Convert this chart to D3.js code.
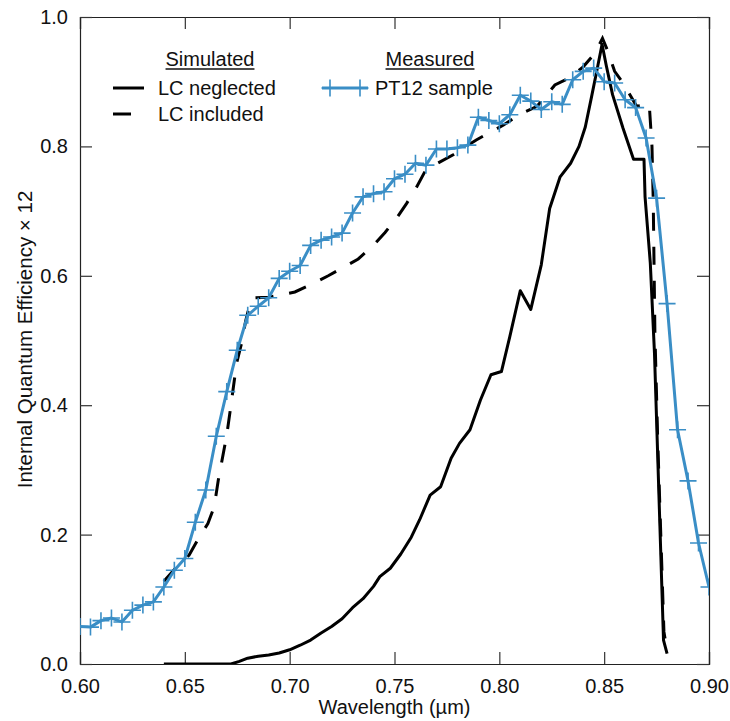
<!DOCTYPE html>
<html>
<head>
<meta charset="utf-8">
<script src="https://cdn.jsdelivr.net/npm/d3@7"></script>
<style>
  body { margin: 0; background: #fff; }
  text { font-family: "Liberation Sans", Arial, Helvetica, sans-serif; fill: #111; }
</style>
</head>
<body>
<div id="chart"></div>
<script>

// measured PT12 sample
var wlMeasured = [0.600, 0.605, 0.610, 0.615, 0.620, 0.625, 0.630, 0.635, 0.640, 0.645,
  0.650, 0.655, 0.660, 0.665, 0.670, 0.675, 0.680, 0.685, 0.690, 0.695,
  0.700, 0.705, 0.710, 0.715, 0.720, 0.725, 0.730, 0.735, 0.740, 0.745,
  0.750, 0.755, 0.760, 0.765, 0.770, 0.775, 0.780, 0.785, 0.790, 0.795,
  0.800, 0.805, 0.810, 0.815, 0.820, 0.825, 0.830, 0.835, 0.840, 0.845,
  0.850, 0.855, 0.860, 0.865, 0.870, 0.875, 0.880, 0.885, 0.890, 0.895, 0.900];
var qeMeasured = [0.058, 0.057, 0.067, 0.071, 0.065, 0.083, 0.091, 0.096, 0.119, 0.145,
  0.163, 0.219, 0.269, 0.352, 0.421, 0.485, 0.539, 0.553, 0.566, 0.596,
  0.607, 0.616, 0.647, 0.655, 0.660, 0.666, 0.697, 0.722, 0.727, 0.730,
  0.750, 0.757, 0.774, 0.771, 0.796, 0.796, 0.798, 0.802, 0.845, 0.840,
  0.835, 0.849, 0.879, 0.870, 0.857, 0.869, 0.865, 0.903, 0.916, 0.921,
  0.900, 0.898, 0.872, 0.860, 0.813, 0.720, 0.557, 0.362, 0.283, 0.187, 0.119];

// simulated, LC neglected
var wlNeglected = [0.640, 0.650, 0.660, 0.672, 0.676, 0.680, 0.685, 0.690, 0.695, 0.700,
  0.705, 0.710, 0.715, 0.720, 0.725, 0.730, 0.735, 0.740, 0.743, 0.748,
  0.753, 0.758, 0.762, 0.767, 0.772, 0.777, 0.781, 0.786, 0.791, 0.796,
  0.801, 0.805, 0.810, 0.815, 0.820, 0.824, 0.829, 0.834, 0.838, 0.841,
  0.844, 0.847, 0.849, 0.851, 0.854, 0.859, 0.864, 0.869, 0.8695, 0.872,
  0.874, 0.8766, 0.8783, 0.880];
var qeNeglected = [0.000, 0.000, 0.000, 0.000, 0.004, 0.009, 0.012, 0.014, 0.017, 0.022,
  0.029, 0.037, 0.048, 0.058, 0.070, 0.087, 0.101, 0.120, 0.135, 0.148,
  0.170, 0.196, 0.223, 0.261, 0.274, 0.318, 0.341, 0.362, 0.408, 0.447,
  0.452, 0.506, 0.577, 0.548, 0.617, 0.704, 0.753, 0.774, 0.800, 0.830,
  0.877, 0.925, 0.958, 0.925, 0.880, 0.828, 0.780, 0.780, 0.722, 0.620,
  0.480, 0.212, 0.037, 0.016];

// simulated, LC included
var wlIncluded = [0.640, 0.645, 0.650, 0.652, 0.6565, 0.661, 0.664, 0.666, 0.670, 0.672,
  0.6747, 0.677, 0.679, 0.681, 0.683, 0.690, 0.695, 0.7025, 0.7105, 0.7184,
  0.7256, 0.7327, 0.7396, 0.7455, 0.751, 0.7558, 0.7602, 0.7645, 0.770, 0.778,
  0.789, 0.802, 0.810, 0.818, 0.8265, 0.833, 0.840, 0.8456, 0.8492, 0.8515,
  0.855, 0.859, 0.8655, 0.8715, 0.8728, 0.8734, 0.8742, 0.8755, 0.877, 0.8785, 0.880];
var qeIncluded = [0.128, 0.146, 0.163, 0.168, 0.194, 0.217, 0.243, 0.285, 0.354, 0.400,
  0.465, 0.495, 0.530, 0.556, 0.566, 0.567, 0.570, 0.575, 0.587, 0.600,
  0.613, 0.626, 0.646, 0.667, 0.689, 0.712, 0.735, 0.761, 0.773, 0.787,
  0.810, 0.833, 0.850, 0.862, 0.895, 0.905, 0.923, 0.944, 0.967, 0.949,
  0.916, 0.898, 0.862, 0.865, 0.800, 0.717, 0.512, 0.350, 0.200, 0.050, 0.020];

var xTicks = [0.60, 0.65, 0.70, 0.75, 0.80, 0.85, 0.90];
var yTicks = [0.0, 0.2, 0.4, 0.6, 0.8, 1.0];

var blue = "#3a8ec6";

var margin = {top: 17, right: 21, bottom: 57, left: 80},
    width = 730 - margin.left - margin.right,
    height = 721 - margin.top - margin.bottom;

var svg = d3.select("#chart")
  .append("svg")
    .attr("width", 730)
    .attr("height", 721)
  .append("g")
    .attr("transform", "translate(" + margin.left + "," + margin.top + ")");

var x = d3.scaleLinear().domain([0.6, 0.9]).range([0, width]);
var y = d3.scaleLinear().domain([0, 1]).range([height, 0]);

svg.append("clipPath").attr("id", "plotclip")
  .append("rect").attr("width", width).attr("height", height);

// frame ticks, all pointing inward
svg.append("g")
  .attr("transform", "translate(0," + height + ")")
  .call(d3.axisBottom(x).tickValues(xTicks).tickSize(-12).tickPadding(15).tickFormat(d3.format(".2f")));
svg.append("g")
  .call(d3.axisTop(x).tickValues(xTicks).tickSize(-12).tickFormat(""));
svg.append("g")
  .call(d3.axisLeft(y).tickValues(yTicks).tickSize(-12).tickPadding(12).tickFormat(d3.format(".1f")));
svg.append("g")
  .attr("transform", "translate(" + width + ",0)")
  .call(d3.axisRight(y).tickValues(yTicks).tickSize(-12).tickFormat(""));

svg.selectAll(".domain").attr("stroke", "#222").attr("stroke-width", 1.2);
svg.selectAll(".tick line").attr("stroke", "#333").attr("stroke-width", 1.2);
svg.selectAll(".tick text").attr("font-size", 20).attr("fill", "#111");

svg.append("text")
  .attr("x", width / 2)
  .attr("y", height + 50)
  .attr("text-anchor", "middle")
  .attr("font-size", 20)
  .text("Wavelength (\u00b5m)");

svg.append("text")
  .attr("transform", "rotate(-90)")
  .attr("x", -(height / 2) + 1)
  .attr("y", -48)
  .attr("text-anchor", "middle")
  .attr("font-size", 20.5)
  .text("Internal Quantum Efficiency \u00d7 12");

var plot = svg.append("g").attr("clip-path", "url(#plotclip)");

function pairs(xs, ys) {
  return xs.map(function(d, i) { return [d, ys[i]]; });
}

var line = d3.line()
  .x(function(d) { return x(d[0]); })
  .y(function(d) { return y(d[1]); });

plot.append("path")
  .datum(pairs(wlNeglected, qeNeglected))
  .attr("fill", "none")
  .attr("stroke", "#000")
  .attr("stroke-width", 3)
  .attr("stroke-linejoin", "round")
  .attr("d", line);

plot.append("path")
  .datum(pairs(wlIncluded, qeIncluded))
  .attr("fill", "none")
  .attr("stroke", "#000")
  .attr("stroke-width", 3)
  .attr("stroke-dasharray", "18,16")
  .attr("d", line);

var measured = pairs(wlMeasured, qeMeasured);

plot.append("path")
  .datum(measured)
  .attr("fill", "none")
  .attr("stroke", blue)
  .attr("stroke-width", 3)
  .attr("stroke-linejoin", "round")
  .attr("d", line);

function plus(g, cx, cy) {
  g.append("path")
    .attr("d", "M" + (cx - 8.5) + "," + cy + "H" + (cx + 8.5) + "M" + cx + "," + (cy - 8.5) + "V" + (cy + 8.5))
    .attr("stroke", blue)
    .attr("stroke-width", 1.6)
    .attr("fill", "none");
}

measured.forEach(function(d) { plus(plot, x(d[0]), y(d[1])); });

// legend
var legend = svg.append("g");

function header(cx, label) {
  var t = legend.append("text")
    .attr("x", cx).attr("y", 49)
    .attr("text-anchor", "middle")
    .attr("font-size", 20)
    .text(label);
  var w = t.node().getComputedTextLength();
  legend.append("line")
    .attr("x1", cx - w / 2).attr("x2", cx + w / 2)
    .attr("y1", 52).attr("y2", 52)
    .attr("stroke", "#111").attr("stroke-width", 1.3);
}

header(130, "Simulated");
header(350, "Measured");

legend.append("line")
  .attr("x1", 33).attr("x2", 64).attr("y1", 71).attr("y2", 71)
  .attr("stroke", "#000").attr("stroke-width", 3);
legend.append("text").attr("x", 78).attr("y", 78).attr("font-size", 20).text("LC neglected");

legend.append("line")
  .attr("x1", 33).attr("x2", 64).attr("y1", 97).attr("y2", 97)
  .attr("stroke", "#000").attr("stroke-width", 3)
  .attr("stroke-dasharray", "18,16");
legend.append("text").attr("x", 78).attr("y", 104).attr("font-size", 20).text("LC included");

legend.append("line")
  .attr("x1", 242).attr("x2", 288).attr("y1", 71).attr("y2", 71)
  .attr("stroke", blue).attr("stroke-width", 3);
plus(legend, 250, 71);
plus(legend, 280, 71);
legend.append("text").attr("x", 295).attr("y", 78).attr("font-size", 20).text("PT12 sample");

</script>
</body>
</html>
